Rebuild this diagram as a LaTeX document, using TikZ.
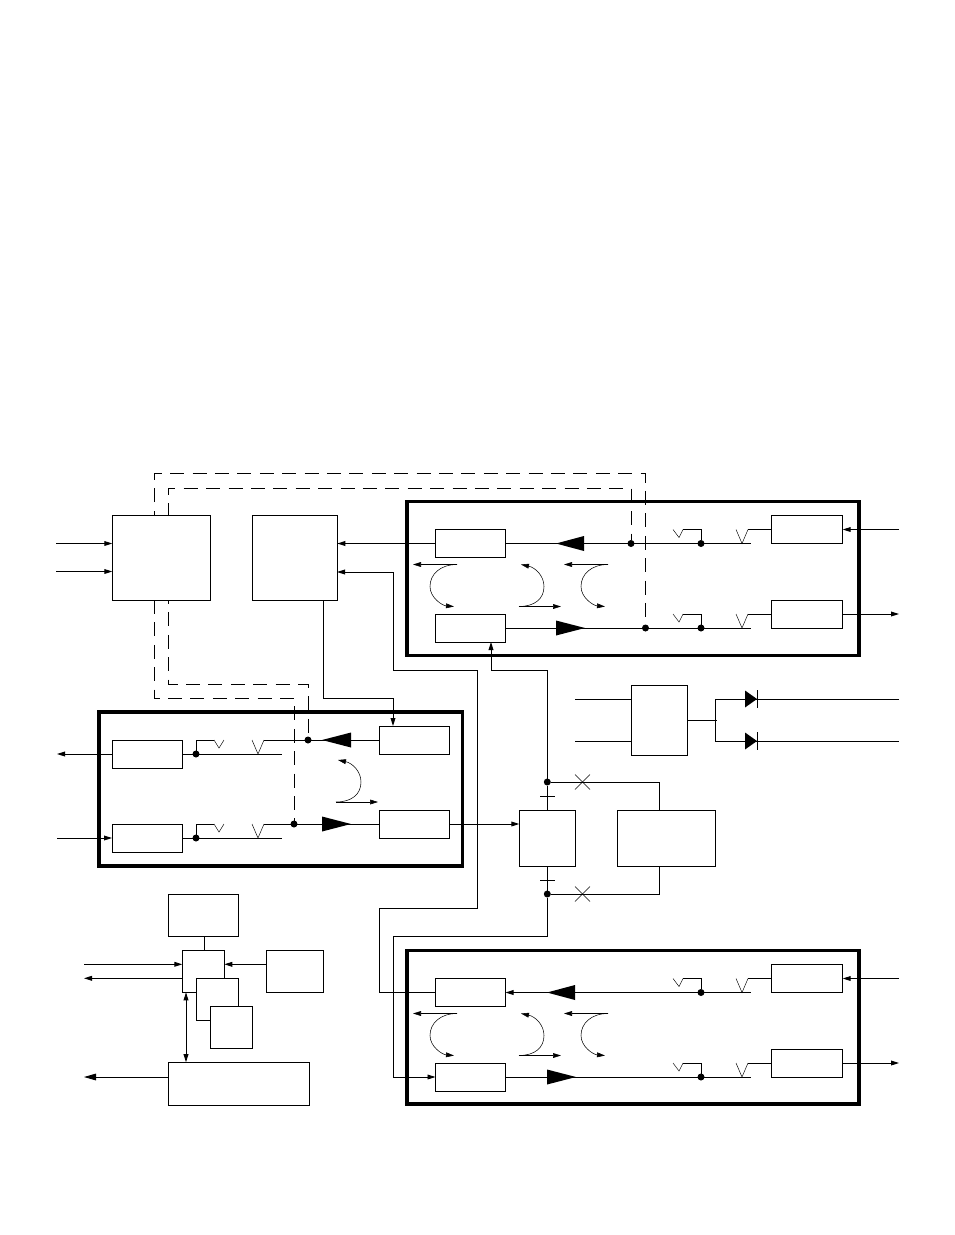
\documentclass[tikz,border=0pt]{standalone}
\usetikzlibrary{arrows.meta}

\newcommand{\pxl}{0.75pt}

\tikzset{
  wire/.style={line width=0.7pt},
  ctl/.style={line width=0.7pt, dash pattern=on 10.5pt off 6.3pt},
  vee/.style={line width=0.35pt},
  swing/.style={line width=0.4pt},
  block/.style={draw, line width=0.7pt, fill=white, inner sep=0pt, outer sep=0pt},
  chan/.style={block, minimum width=70*\pxl, minimum height=28*\pxl},
  rxbox/.style={block, minimum width=71.4*\pxl, minimum height=28*\pxl},
  chip/.style={block, minimum width=42*\pxl, minimum height=42*\pxl},
  frame/.style={draw, line width=2.5pt, inner sep=0pt, outer sep=0pt},
  dot/.style={circle, fill=black, inner sep=0pt, outer sep=0pt, minimum size=7*\pxl},
  cross/.style={line width=0.35pt},
  swing right/.pic={
    \draw[swing,->] (0,0) -- (42,0);
    \draw[swing,->] (0,0) .. controls (16,0) and (25,-8) .. (25,-20)
      .. controls (25,-31) and (16,-39) .. (2,-42);
  },
  swing left/.pic={
    \draw[swing,->] (0,0) -- (-44,0);
    \draw[swing,->] (0,0) .. controls (-17,0) and (-27,10) .. (-27,22)
      .. controls (-27,33) and (-15,41) .. (-3,42);
  },
}

\begin{document}
\begin{tikzpicture}[x=\pxl, y=-\pxl, >={Stealth[length=6pt,width=3.6pt,inset=0pt]}]
\useasboundingbox (0,0) rectangle (954,1235);

% frames
\node[frame, minimum width=452*\pxl, minimum height=154*\pxl] (frameA) at (633,578.5) {};
\node[frame, minimum width=363.5*\pxl, minimum height=154*\pxl] (frameB) at (280.7,789) {};
\node[frame, minimum width=452*\pxl, minimum height=153.5*\pxl] (frameC) at (633,1027.2) {};

% top left
\node[block, minimum width=98*\pxl, minimum height=85*\pxl] (ctrl) at (161.3,557.8) {};
\node[block, minimum width=85*\pxl, minimum height=85*\pxl] (proc) at (294.8,557.8) {};

\node[chan] (chanA) at (470.5,543.5) {};
\node[chan] (chanB) at (470.5,628) {};
\node[chan] (chanC) at (470.5,992.5) {};
\node[chan] (chanD) at (470.5,1077) {};
\node[chan] (chanE) at (414,740) {};
\node[chan] (chanF) at (414,824) {};

% rows on the right
\foreach \row/\y in {a/543.5, b/628, c/992.5, d/1077} {
  \node[rxbox] (line\row) at (807,\y-14) {};
  \node[dot] (tap\row) at (701,\y) {};
  \coordinate (end\row) at (751,\y);
  \draw[vee] (673,\y-14) -- (679,\y-6) -- (683,\y-14);
  \draw[vee] (736,\y-14) -- (742,\y) -- (748,\y-14);
  \draw[wire] (683,\y-14) -| (tap\row);
  \draw[wire] (748,\y-14) -- (line\row.west);
}

% rows on the left
\foreach \row/\y in {e/754, f/838} {
  \node[chan] (line\row) at (147,\y) {};
  \node[dot] (tap\row) at (196,\y) {};
  \coordinate (end\row) at (282,\y);
  \draw[wire] (tap\row) |- (214,\y-14);
  \draw[vee] (214,\y-14) -- (219,\y-6) -- (224,\y-14);
  \draw[vee] (252,\y-14) -- (258,\y) -- (264,\y-14);
  \draw[wire] (line\row.east) -- (end\row);
}
\draw[wire] (264,740) -- (chanE.west);
\draw[wire] (264,824) -- (chanF.west);

\draw[wire] (chanA.east) -- (enda);
\draw[wire] (chanB.east) -- (endb);
\draw[wire,<-] (chanC.east) -- (endc);
\draw[wire] (chanD.east) -- (endd);

% power triangles
\foreach \tip/\base/\y in {556/584/543.5, 585/556/628, 547/575/992.5, 576/547/1077, 322/351/740, 351/322/824}
  \fill (\tip,\y) -- (\base,\y-7.5) -- (\base,\y+7.5) -- cycle;

% swing arrows
\pic at (457,564.5) {swing left};
\pic at (608,564.5) {swing left};
\pic at (519,606.5) {swing right};
\pic at (457,1013.5) {swing left};
\pic at (608,1013.5) {swing left};
\pic at (519,1055.5) {swing right};
\pic at (336,802) {swing right};

% dashed lines
\node[dot] (busA) at (631,543.5) {};
\node[dot] (busB) at (645.5,628) {};
\node[dot] (busE) at (308,740) {};
\node[dot] (busF) at (294,824) {};
\coordinate (ctrlNa) at (154,516);
\coordinate (ctrlNb) at (168,516);
\coordinate (ctrlSa) at (154,600);
\coordinate (ctrlSb) at (168,600);
\draw[ctl, dash phase=6.4pt] (ctrlNa) |- (645.5,473.5) -- (busB);
\draw[ctl, dash phase=0.8pt] (ctrlNb) |- (631,488) -- (busA);
\draw[ctl] (ctrlSa) |- (294,698) -- (busF);
\draw[ctl, dash phase=7.5pt] (ctrlSb) |- (308,684) -- (busE);

% left in
\coordinate (inA) at (56,543.5);
\coordinate (inB) at (56,571.5);
\draw[wire,->] (inA) -- (inA -| ctrl.west);
\draw[wire,->] (inB) -- (inB -| ctrl.west);

% proc links
\draw[wire,->] (chanA.west) -- (chanA.west -| proc.east);
\coordinate (procIn) at (337,572);
\draw[wire,->] (chanC.west) -- (379,992.5) -- (379,908) -- (477.5,908) -- (477.5,670) -- (393,670) -- (393,572) -- (procIn);
\coordinate (procOut) at (323,600);
\draw[wire,->] (procOut) |- (393,698) -- (393,726);

% outer arrows
\foreach \row/\y in {a/529.5, c/978.5} {
  \coordinate (in\row) at (899,\y);
  \draw[wire,->] (in\row) -- (line\row.east);
}
\foreach \row/\y in {b/614, d/1063} {
  \coordinate (out\row) at (899,\y);
  \draw[wire,->] (line\row.east) -- (out\row);
}
\coordinate (oute) at (57,754);
\coordinate (inf) at (57,838);
\draw[wire,->] (linee.west) -- (oute);
\draw[wire,->] (inf) -- (linef.west);

% centre
\node[block, minimum width=56*\pxl, minimum height=56*\pxl] (hub) at (547.3,838) {};
\node[block, minimum width=98*\pxl, minimum height=56*\pxl] (side) at (666.3,838) {};
\node[dot] (hubN) at (547.3,782) {};
\node[dot] (hubS) at (547.3,894) {};
\coordinate (chanBin) at (491,642);
\draw[wire,->] (chanF.east) -- (chanF.east -| hub.west);
\draw[wire] (hub.north) -- (hubN);
\draw[wire] (hub.south) -- (hubS);
\draw[wire,->] (hubN) -- (547.3,670) -- (491,670) -- (chanBin);
\draw[wire,->] (hubS) -- (547.3,936.5) -- (393,936.5) -- (393,1077) -- (chanD.west);
\draw[wire] (hubN) -- (659.3,782) -- (659.3,810);
\draw[wire] (hubS) -- (659.3,894) -- (659.3,866);
\draw[wire] (540,796) -- (555,796);
\draw[wire] (540,880) -- (555,880);
\foreach \y in {782, 894} {
  \draw[cross] (575,\y-7.5) -- (590,\y+7.5);
  \draw[cross] (575,\y+7.5) -- (590,\y-7.5);
}

% diodes
\node[block, minimum width=56*\pxl, minimum height=70*\pxl] (logic) at (659.3,720.3) {};
\coordinate (feedA) at (575,699);
\coordinate (feedB) at (575,741);
\coordinate (tailA) at (899,699);
\coordinate (tailB) at (899,741);
\draw[wire] (feedA) -- (feedA -| logic.west);
\draw[wire] (feedB) -- (feedB -| logic.west);
\draw[wire] (logic.east) -- (717,720.3);
\draw[wire] (tailA) -- (715.3,699) -- (715.3,741) -- (tailB);
\foreach \y in {699, 741} {
  \fill (745,\y-8.5) -- (757,\y) -- (745,\y+8.5) -- cycle;
  \draw[wire] (757,\y-9) -- (757,\y+9);
}

% bottom left
\node[block, minimum width=70*\pxl, minimum height=42*\pxl] (mem) at (203.3,915.3) {};
\node[chip] (cpuA) at (203.3,971.3) {};
\node[chip] (cpuB) at (217.3,999.3) {};
\node[chip] (cpuC) at (231.3,1027.3) {};
\node[block, minimum width=57*\pxl, minimum height=42*\pxl] (clk) at (294.8,971.3) {};
\node[block, minimum width=141*\pxl, minimum height=43*\pxl] (bus) at (238.8,1083.7) {};
\coordinate (hostIn) at (84,964.3);
\coordinate (hostOut) at (84,978.3);
\coordinate (busOut) at (84,1077);
\coordinate (cpuS) at (186,992.3);
\coordinate (busN) at (186,1062.2);
\draw[wire] (204.3,936.3) -- (204.3,950.3);
\draw[wire,->] (clk.west |- hostIn) -- (cpuA.east |- hostIn);
\draw[wire,->] (hostIn) -- (cpuA.west |- hostIn);
\draw[wire,->] (cpuA.west |- hostOut) -- (hostOut);
\draw[wire,<->] (cpuS) -- (busN);
\draw[wire,-{Stealth[length=9pt,width=5pt,inset=0pt]}] (bus.west |- busOut) -- (busOut);

\end{tikzpicture}
\end{document}
